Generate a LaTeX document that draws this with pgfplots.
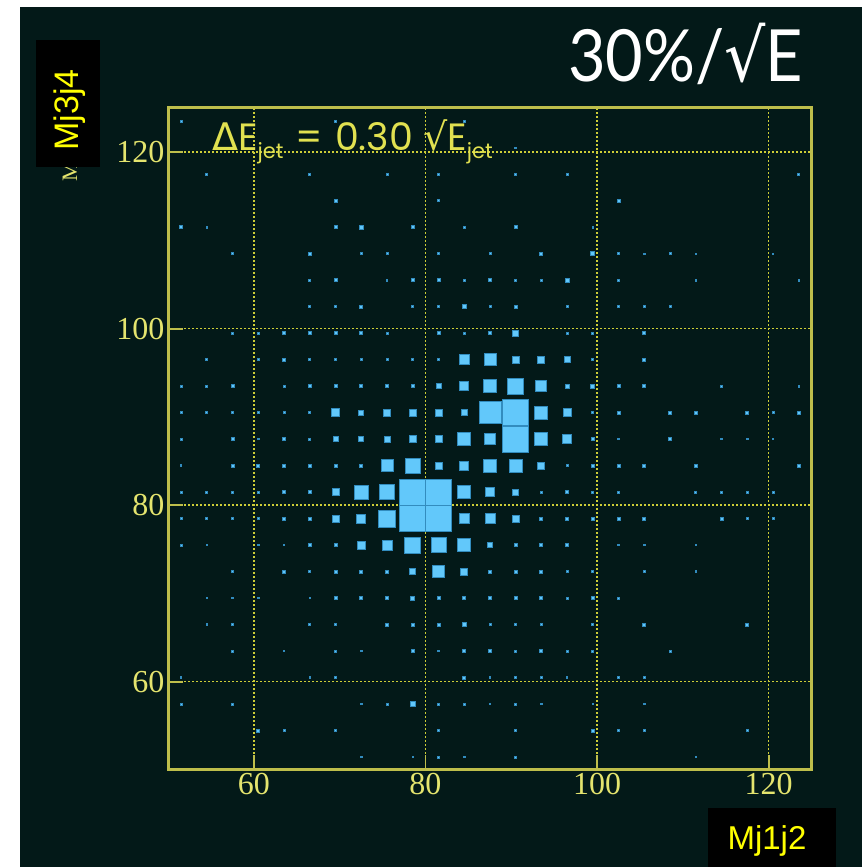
\documentclass[border=0pt]{standalone}
\usepackage{pgfplots}
\pgfplotsset{compat=1.18}
\usepackage{fontspec}
\newfontfamily\tickfont{Liberation Serif}
\newfontfamily\labfont{Liberation Sans}
\newfontfamily\geofont{Poppins}
\newfontfamily\symfont{DejaVu Sans}
\newfontfamily\titlefont{Lato}
\definecolor{bg}{RGB}{3,25,24}
\definecolor{boxfill}{RGB}{98,200,250}
\definecolor{boxedge}{RGB}{50,140,190}
\definecolor{frameyellow}{RGB}{190,190,75}
\definecolor{gridyellow}{RGB}{205,205,55}
\definecolor{tickyellow}{RGB}{228,228,110}
\definecolor{labyellow}{RGB}{255,255,0}
\definecolor{txtyellow}{RGB}{225,225,80}
\begin{document}
\begin{tikzpicture}
\path[use as bounding box] (0,0) rectangle (862pt,867pt);
\fill[white] (0,0) rectangle (862pt,867pt);
\fill[bg] (20pt,0) rectangle (862pt,860pt);
\node[rotate=90, anchor=base west, inner sep=0, text=tickyellow, font=\tickfont\fontsize{22}{22}\selectfont] at (77pt,685pt) {Mj3j4 mass};
\begin{axis}[
  at={(168pt,97pt)}, anchor=south west,
  x=8.58pt, y=8.827pt,
  xmin=50, xmax=125, ymin=50, ymax=125,
  xtick={60,80,100,120}, ytick={60,80,100,120},
  minor tick num=0,
  grid=major,
  major grid style={gridyellow, line width=1.4pt, dash pattern=on 1.6pt off 2.4pt},
  axis line style={frameyellow, line width=3pt},
  tick style={frameyellow, line width=1.8pt},
  major tick length=15pt,
  tick align=inside, tick pos=left,
  axis on top,
  /pgf/number format/assume math mode=true,
  ticklabel style={font=\tickfont\fontsize{32}{32}\selectfont, text=tickyellow},
]
\addplot[scatter, only marks, mark=square*,
  scatter/use mapped color={draw=boxedge, fill=boxfill},
  mark options={line width=0.5pt},
  visualization depends on={\thisrow{s}/2 \as \hs},
  scatter/@pre marker code/.append style={/tikz/mark size=\hs}]
table {
x y s
51.5 123.5 2
69.5 123.5 2
84.5 123.5 2
90.5 120.5 1.5
54.5 117.5 2
66.5 117.5 2
75.5 117.5 2
81.5 117.5 2
90.5 117.5 2
96.5 117.5 2
123.5 117.5 2
69.5 114.5 3
81.5 114.5 2
102.5 114.5 3
51.5 111.5 3
54.5 111.5 1.5
69.5 111.5 3
72.5 111.5 4
78.5 111.5 3
84.5 111.5 1.5
90.5 111.5 3
99.5 111.5 1.5
57.5 108.5 2
66.5 108.5 3
72.5 108.5 2
75.5 108.5 2
81.5 108.5 2
87.5 108.5 2
93.5 108.5 3
99.5 108.5 4
102.5 108.5 2
105.5 108.5 1.5
108.5 108.5 2
111.5 108.5 1.5
120.5 108.5 1.5
66.5 105.5 2
69.5 105.5 3
75.5 105.5 1.5
78.5 105.5 3
81.5 105.5 3
84.5 105.5 1.5
87.5 105.5 3
90.5 105.5 1.5
93.5 105.5 1.5
96.5 105.5 4
102.5 105.5 2
111.5 105.5 1.5
123.5 105.5 1.5
66.5 102.5 2
69.5 102.5 2
72.5 102.5 3
78.5 102.5 2
81.5 102.5 2
84.5 102.5 4
87.5 102.5 2
90.5 102.5 3
96.5 102.5 2
102.5 102.5 2
105.5 102.5 2
108.5 102.5 2
57.5 99.5 2
60.5 99.5 2
63.5 99.5 3
66.5 99.5 3
69.5 99.5 3
72.5 99.5 3
75.5 99.5 2
81.5 99.5 3
84.5 99.5 2
87.5 99.5 3
90.5 99.5 6
96.5 99.5 2
99.5 99.5 2
105.5 99.5 3
54.5 96.5 2
60.5 96.5 2
63.5 96.5 3
66.5 96.5 2
69.5 96.5 2
72.5 96.5 2
75.5 96.5 2
78.5 96.5 2
81.5 96.5 2
84.5 96.5 10
87.5 96.5 12
90.5 96.5 7
93.5 96.5 7
96.5 96.5 6
99.5 96.5 2
105.5 96.5 3
51.5 93.5 2
54.5 93.5 2
57.5 93.5 3
63.5 93.5 2
66.5 93.5 3
69.5 93.5 3
72.5 93.5 3
75.5 93.5 3
78.5 93.5 3
81.5 93.5 5
84.5 93.5 9
87.5 93.5 13
90.5 93.5 16
93.5 93.5 11
96.5 93.5 4
99.5 93.5 4
102.5 93.5 3
105.5 93.5 3
114.5 93.5 1.5
123.5 93.5 1.5
51.5 90.5 2
54.5 90.5 2
57.5 90.5 2
60.5 90.5 2
63.5 90.5 2
66.5 90.5 2
69.5 90.5 8
72.5 90.5 5
75.5 90.5 7
78.5 90.5 7
81.5 90.5 7
84.5 90.5 6
87.5 90.5 22
90.5 90.5 26
93.5 90.5 13
96.5 90.5 8
99.5 90.5 2
102.5 90.5 3
108.5 90.5 3
111.5 90.5 3
117.5 90.5 3
120.5 90.5 2
123.5 90.5 3
51.5 87.5 2
57.5 87.5 3
60.5 87.5 1.5
63.5 87.5 3
66.5 87.5 2
69.5 87.5 5
72.5 87.5 5
75.5 87.5 6
78.5 87.5 7
81.5 87.5 7
84.5 87.5 13
87.5 87.5 11
90.5 87.5 26
93.5 87.5 13
96.5 87.5 9
99.5 87.5 3
102.5 87.5 1.5
108.5 87.5 3
114.5 87.5 1.5
117.5 87.5 1.5
120.5 87.5 1.5
51.5 84.5 1.5
57.5 84.5 3
60.5 84.5 3
63.5 84.5 3
66.5 84.5 3
69.5 84.5 3
72.5 84.5 3
75.5 84.5 12
78.5 84.5 15
81.5 84.5 7
84.5 84.5 9
87.5 84.5 13
90.5 84.5 13
93.5 84.5 7
96.5 84.5 2
99.5 84.5 3
102.5 84.5 3
105.5 84.5 3
111.5 84.5 3
123.5 84.5 3
51.5 81.5 2
54.5 81.5 2
57.5 81.5 2
60.5 81.5 2
63.5 81.5 3
66.5 81.5 3
69.5 81.5 7
72.5 81.5 14
75.5 81.5 15
78.5 81.5 26
81.5 81.5 26
84.5 81.5 13
87.5 81.5 9
90.5 81.5 6
93.5 81.5 2
96.5 81.5 3
99.5 81.5 2
102.5 81.5 2
111.5 81.5 2
114.5 81.5 2
117.5 81.5 2
120.5 81.5 2
51.5 78.5 2
54.5 78.5 2
57.5 78.5 2
60.5 78.5 2
63.5 78.5 3
66.5 78.5 3
69.5 78.5 7
72.5 78.5 9
75.5 78.5 17
78.5 78.5 26
81.5 78.5 26
84.5 78.5 10
87.5 78.5 10
90.5 78.5 7
93.5 78.5 3
96.5 78.5 3
99.5 78.5 3
102.5 78.5 3
105.5 78.5 3
114.5 78.5 3
117.5 78.5 2
120.5 78.5 2
51.5 75.5 2
54.5 75.5 1.5
60.5 75.5 1.5
63.5 75.5 1.5
66.5 75.5 3
69.5 75.5 3
72.5 75.5 8
75.5 75.5 10
78.5 75.5 16
81.5 75.5 15
84.5 75.5 13
87.5 75.5 5
90.5 75.5 3
93.5 75.5 3
96.5 75.5 3
102.5 75.5 1.5
105.5 75.5 1.5
111.5 75.5 1.5
57.5 72.5 2
63.5 72.5 3
66.5 72.5 2
69.5 72.5 3
72.5 72.5 3
75.5 72.5 3
78.5 72.5 6
81.5 72.5 12
84.5 72.5 7
87.5 72.5 3
90.5 72.5 3
93.5 72.5 3
96.5 72.5 2
99.5 72.5 2
105.5 72.5 1.5
111.5 72.5 1.5
54.5 69.5 1.5
57.5 69.5 1.5
60.5 69.5 1.5
66.5 69.5 1.5
69.5 69.5 3
72.5 69.5 3
75.5 69.5 3
78.5 69.5 4
81.5 69.5 3
84.5 69.5 3
87.5 69.5 3
90.5 69.5 3
93.5 69.5 3
96.5 69.5 2
99.5 69.5 3
102.5 69.5 2
54.5 66.5 1.5
57.5 66.5 2
66.5 66.5 2
69.5 66.5 1.5
75.5 66.5 3
78.5 66.5 3
81.5 66.5 3
84.5 66.5 4
87.5 66.5 2
90.5 66.5 2
93.5 66.5 2
99.5 66.5 2
105.5 66.5 3
117.5 66.5 3
57.5 63.5 2
63.5 63.5 1.5
69.5 63.5 2
72.5 63.5 1.5
78.5 63.5 3
81.5 63.5 1.5
84.5 63.5 3
87.5 63.5 3
90.5 63.5 2
93.5 63.5 3
96.5 63.5 2
99.5 63.5 2
108.5 63.5 2
51.5 60.5 1.5
66.5 60.5 1.5
69.5 60.5 1.5
84.5 60.5 3
87.5 60.5 1.5
90.5 60.5 1.5
93.5 60.5 1.5
96.5 60.5 1.5
102.5 60.5 1.5
105.5 60.5 1.5
51.5 57.5 2
57.5 57.5 2
72.5 57.5 1.5
75.5 57.5 2
78.5 57.5 5
81.5 57.5 2
84.5 57.5 2
87.5 57.5 1.5
90.5 57.5 2
93.5 57.5 1.5
99.5 57.5 1.5
105.5 57.5 1.5
60.5 54.5 3
63.5 54.5 2
69.5 54.5 2
81.5 54.5 1.5
90.5 54.5 2
99.5 54.5 3
102.5 54.5 2
105.5 54.5 2
117.5 54.5 2
72.5 51.5 1.5
78.5 51.5 1.5
81.5 51.5 2
84.5 51.5 1.5
90.5 51.5 2
111.5 51.5 1.5
};
\end{axis}
\node[anchor=base west, inner sep=0, text=txtyellow, font=\geofont\fontsize{38}{38}\selectfont] at (212pt,716pt)
  {{\symfont Δ}E\raisebox{-8pt}{\fontsize{21}{21}\selectfont jet}\hspace{12pt}=\hspace{12pt}0.30\hspace{10pt}{\symfont √}E\raisebox{-8pt}{\fontsize{21}{21}\selectfont jet}};
\node[anchor=base west, inner sep=0, text=white, font=\titlefont\fontsize{72}{72}\selectfont] at (568pt,785pt)
  {\scalebox{0.9}[1]{30\%/{\symfont √}E}};
\fill[black] (36pt,700pt) rectangle (100pt,827pt);
\node[rotate=90, inner sep=0, text=labyellow, font=\labfont\fontsize{34}{34}\selectfont] at (70pt,757pt) {Mj3j4};
\fill[black] (708pt,0pt) rectangle (836pt,59pt);
\node[inner sep=0, text=labyellow, font=\labfont\fontsize{33}{33}\selectfont] at (767pt,26pt) {Mj1j2};
\end{tikzpicture}
\end{document}
